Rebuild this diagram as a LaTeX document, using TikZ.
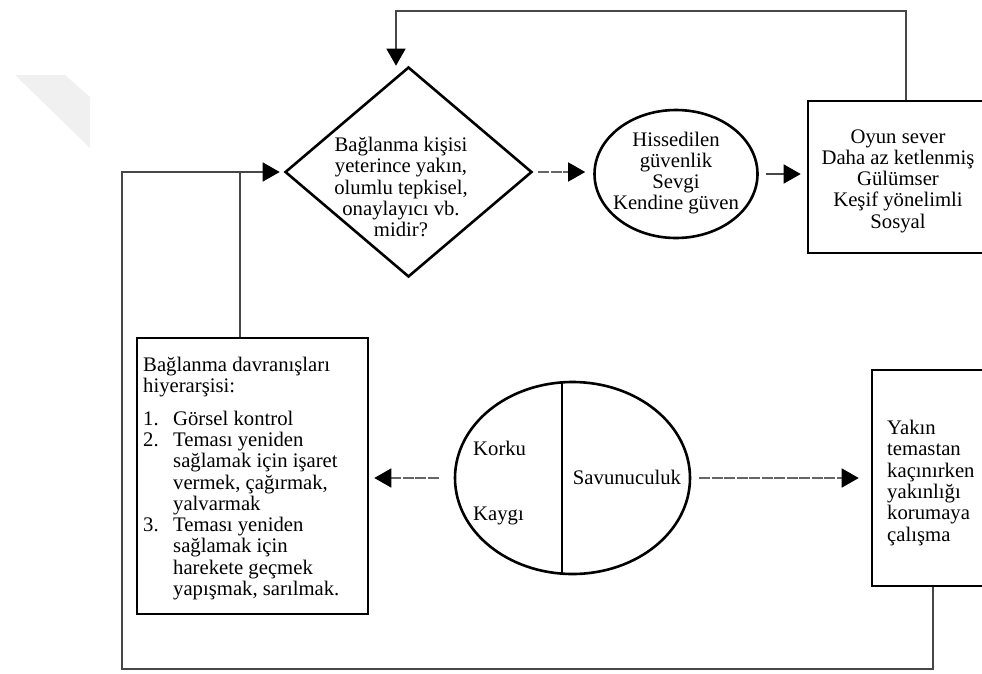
\documentclass[tikz,border=0pt]{standalone}
\usepackage{fontspec}
\setmainfont{Liberation Serif}
\usetikzlibrary{shapes.geometric,arrows.meta,calc}
\begin{document}
\begin{tikzpicture}[x=1pt,y=-1pt,
  every node/.style={font=\fontsize{20.7}{21.3}\selectfont, inner sep=0pt, text=black},
  shapeline/.style={draw=black, line width=2.6pt},
  conn/.style={draw=black!72, line width=1.5pt},
  faint/.style={draw=black!60, line width=1.5pt, dash pattern=on 11pt off 1.5pt},
  tip/.style={-{Triangle[length=17pt,width=19pt,color=black]}},
  ]
\useasboundingbox (0,0) rectangle (982,673);
% watermark
\fill[black!6] (15,75) -- (65,75) -- (90,97) -- (90,148) -- cycle;

% shapes
\node[shapeline, diamond, minimum width=247pt, minimum height=210pt] (q) at (408.5,172) {};
\node[align=center] (qt) at (401,187) {Bağlanma kişisi\\yeterince yakın,\\olumlu tepkisel,\\onaylayıcı vb.\\midir?};

\node[shapeline, ellipse, minimum width=163pt, minimum height=128pt] (h) at (676,174) {};
\node[align=center] (ht) at (676,173) {Hissedilen\\güvenlik\\Sevgi\\Kendine güven};

\node[shapeline, rectangle, minimum width=184pt, minimum height=152pt] (r) at (900,177) {};
\node[align=center] (rt) at (898,181) {Oyun sever\\Daha az ketlenmiş\\Gülümser\\Keşif yönelimli\\Sosyal};

\node[shapeline, rectangle, minimum width=231pt, minimum height=276pt] (L) at (252.5,476) {};
\node[align=left, anchor=north west] (Lt) at (143,357) {Bağlanma davranışları\\
hiyerarşisi:\\[11pt]
\makebox[30pt][l]{1.}Görsel kontrol\\
\makebox[30pt][l]{2.}Teması yeniden\\
\hspace*{30pt}sağlamak için işaret\\
\hspace*{30pt}vermek, çağırmak,\\
\hspace*{30pt}yalvarmak\\
\makebox[30pt][l]{3.}Teması yeniden\\
\hspace*{30pt}sağlamak için\\
\hspace*{30pt}harekete geçmek\\
\hspace*{30pt}yapışmak, sarılmak.};

\node[shapeline, ellipse, minimum width=235pt, minimum height=192pt] (e) at (572.5,478) {};
\draw[line width=1.4pt] ($(e.center)+(-10.5,-95.6)$) -- ($(e.center)+(-10.5,95.6)$);
\node[anchor=base west] (ko) at (473,455) {Korku};
\node[anchor=base west] (ka) at (473,520) {Kaygı};
\node[anchor=base] (sa) at (627,484) {Savunuculuk};

\node[shapeline, rectangle, minimum width=122pt, minimum height=216pt] (Y) at (933,478) {};
\node[align=left, anchor=north west] (Yt) at (887,420) {Yakın\\temastan\\kaçınırken\\yakınlığı\\korumaya\\çalışma};

% connectors
\coordinate (tr) at (906,11);
\coordinate (tl) at (396,11);
\draw[conn, tip] (tr |- r.north) -- (tr) -- (tl) -- (tl |- q.north);

\draw[faint, tip, shorten <=5pt, shorten >=8pt] (q.east) -- (q.east -| h.west);
\draw[conn, tip, shorten <=7pt, shorten >=6pt] (h.east) -- (h.east -| r.west);

\coordinate (bl) at (122,669);
\coordinate (br) at (933,669);
\draw[conn, tip, shorten >=4pt] (br |- Y.south) -- (br) -- (bl) -- (bl |- q.west) -- (q.west);

\coordinate (il) at (240,172);
\draw[conn] (il |- L.north) -- (il);

\draw[faint, tip, shorten <=15pt, shorten >=5pt] (e.west) -- (e.west -| L.east);
\draw[faint, tip, shorten <=8pt, shorten >=12pt] (e.east) -- (e.east -| Y.west);
\end{tikzpicture}
\end{document}
